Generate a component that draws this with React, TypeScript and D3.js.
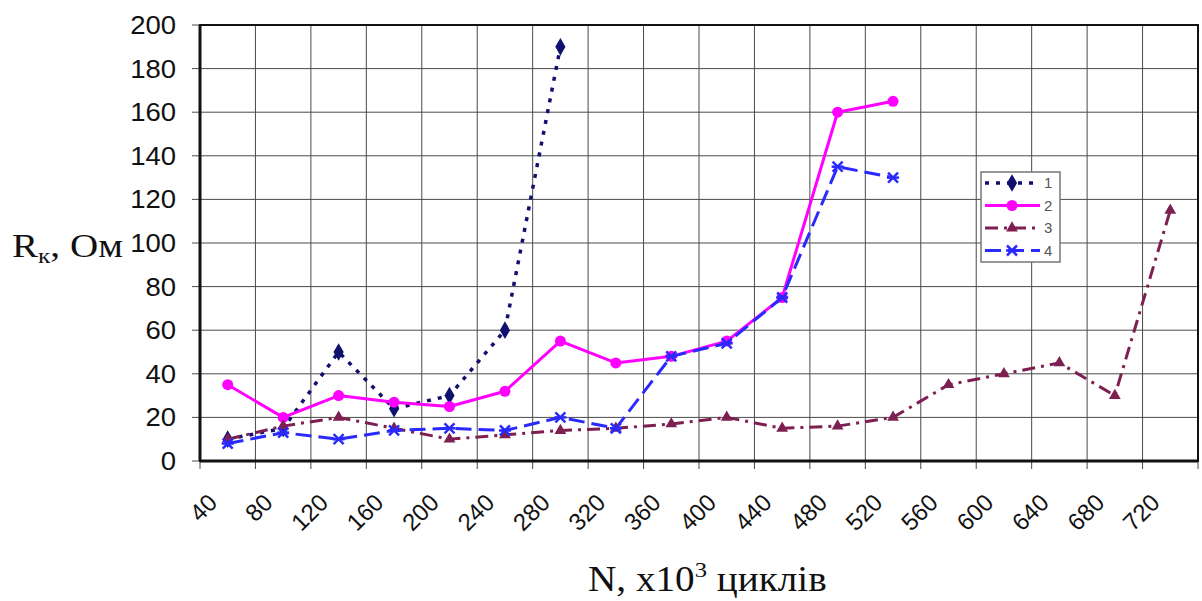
import React from "react";
import * as d3 from "d3";

const width = 1202;
const height = 601;
const margin = { top: 25, right: 4, bottom: 140, left: 200 };

const categories = ["40", "80", "120", "160", "200", "240", "280", "320", "360", "400", "440", "480", "520", "560", "600", "640", "680", "720"];
const yTicks = [0, 20, 40, 60, 80, 100, 120, 140, 160, 180, 200];

const series1 = [10, 15, 50, 24, 30, 60, 190];
const series2 = [35, 20, 30, 27, 25, 32, 55, 45, 48, 55, 75, 160, 165];
const series3 = [10, 16, 20, 15, 10, 12, 14, 15, 17, 20, 15, 16, 20, 35, 40, 45, 30, 115];
const series4 = [8, 13, 10, 14, 15, 14, 20, 15, 48, 54, 75, 135, 130];
const seriesNames = ["1", "2", "3", "4"];

const styles = [
  { color: "#10106e", dash: "4,7", width: 3.5, marker: "diamond" },
  { color: "#ff00ff", dash: "", width: 3, marker: "circle" },
  { color: "#7e1f52", dash: "13,6,3,6", width: 3, marker: "triangle" },
  { color: "#2a2aff", dash: "16,7", width: 3, marker: "x" },
];

const x = d3
  .scaleBand()
  .domain(categories)
  .range([margin.left, width - margin.right])
  .padding(0);

const y = d3
  .scaleLinear()
  .domain([0, 200])
  .range([height - margin.bottom, margin.top]);

const cx = (i: number) => (x(categories[i]) as number) + x.bandwidth() / 2;

function Marker({ kind, px, py, color }: { kind: string; px: number; py: number; color: string }) {
  if (kind === "circle") return <circle cx={px} cy={py} r={5.5} fill={color} />;
  if (kind === "diamond")
    return <path d={d3.symbol(d3.symbolDiamond, 90)() as string} transform={`translate(${px},${py})`} fill={color} />;
  if (kind === "triangle")
    return <path d={d3.symbol(d3.symbolTriangle, 60)() as string} transform={`translate(${px},${py})`} fill={color} />;
  const s = 5;
  return (
    <g stroke={color} strokeWidth={2.5} transform={`translate(${px},${py})`}>
      <line x1={-s} y1={-s} x2={s} y2={s} />
      <line x1={-s} y1={s} x2={s} y2={-s} />
      <line x1={-s - 1} y1={0} x2={s + 1} y2={0} />
    </g>
  );
}

export default function App() {
  const allSeries = [series1, series2, series3, series4];
  const line = d3
    .line<number>()
    .x((_, i) => cx(i))
    .y((d) => y(d));

  const plotW = width - margin.left - margin.right;
  const plotH = height - margin.top - margin.bottom;
  const bottom = height - margin.bottom;

  const legend = { x: 981, y: 172, w: 79, h: 90 };
  const serif = "'Liberation Serif', 'Times New Roman', serif";
  const sans = "Arial, 'Liberation Sans', sans-serif";

  return (
    <svg
      width={width}
      height={height}
      style={{ position: "absolute", left: 0, top: 0, background: "#fff" }}
    >
      <rect x={0} y={0} width={width} height={height} fill="#fff" />

      {/* grid */}
      <g stroke="#4a4a4a" strokeWidth={1}>
        {yTicks.map((t) => (
          <line key={"h" + t} x1={margin.left - 8} x2={width - margin.right} y1={y(t)} y2={y(t)} />
        ))}
        {categories.map((c) => (
          <line key={"v" + c} x1={x(c)} x2={x(c)} y1={margin.top} y2={bottom + 8} />
        ))}
        <line x1={width - margin.right} x2={width - margin.right} y1={margin.top} y2={bottom + 8} />
      </g>
      <rect x={margin.left} y={margin.top} width={plotW} height={plotH} fill="none" stroke="#111" strokeWidth={2} />
      <line x1={margin.left} x2={width - margin.right} y1={bottom} y2={bottom} stroke="#111" strokeWidth={3} />
      <line x1={margin.left} x2={margin.left} y1={margin.top} y2={bottom} stroke="#111" strokeWidth={3} />

      {/* y labels */}
      <g fontFamily={sans} fontSize={25} fill="#111" textAnchor="end">
        {yTicks.map((t) => (
          <text key={t} transform={`translate(176,${y(t)}) scale(1.1,1)`} dy="0.36em">
            {t}
          </text>
        ))}
      </g>

      {/* x labels */}
      <g fontFamily={sans} fontSize={24} fill="#111" textAnchor="end">
        {categories.map((c, i) => (
          <text key={c} transform={`translate(${cx(i) - 9},${bottom + 43}) rotate(-45)`}>
            {c}
          </text>
        ))}
      </g>

      {/* axis titles */}
      <text transform="translate(12,257) scale(1.15,1)" fontFamily={serif} fontSize={34} fill="#111">
        R<tspan fontSize={22} dy={6}>к</tspan>
        <tspan dy={-6}>, Ом</tspan>
      </text>
      <text transform="translate(588,591) scale(1.12,1)" fontFamily={serif} fontSize={35} fill="#111">
        N, x10<tspan fontSize={22} dy={-14}>3</tspan>
        <tspan dy={14}> циклів</tspan>
      </text>

      {/* series */}
      {allSeries.map((s, k) => (
        <g key={k}>
          <path
            d={line(s) as string}
            fill="none"
            stroke={styles[k].color}
            strokeWidth={styles[k].width}
            strokeDasharray={styles[k].dash}
            strokeLinejoin="round"
          />
          {s.map((v, i) => (
            <Marker key={i} kind={styles[k].marker} px={cx(i)} py={y(v)} color={styles[k].color} />
          ))}
        </g>
      ))}

      {/* legend */}
      <rect x={legend.x} y={legend.y} width={legend.w} height={legend.h} fill="#fff" stroke="#777" strokeWidth={1.5} />
      {seriesNames.map((n, k) => {
        const ly = 183 + k * 22.5;
        return (
          <g key={n}>
            <line
              x1={985}
              x2={1040}
              y1={ly}
              y2={ly}
              stroke={styles[k].color}
              strokeWidth={styles[k].width}
              strokeDasharray={styles[k].dash}
            />
            <Marker kind={styles[k].marker} px={1012} py={ly} color={styles[k].color} />
            <text x={1044} y={ly} dy="0.36em" fontFamily={sans} fontSize={15} fill="#555">
              {n}
            </text>
          </g>
        );
      })}
    </svg>
  );
}
